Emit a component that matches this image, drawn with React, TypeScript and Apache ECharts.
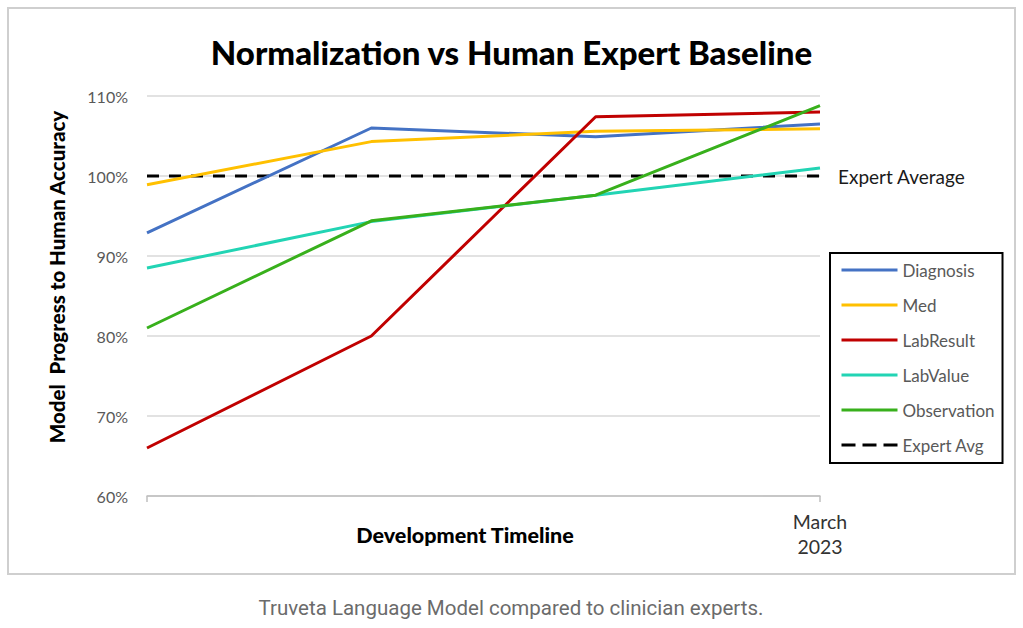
import React, { useEffect, useRef } from "react";
import * as echarts from "echarts";

const categories = ["Stage 1", "Stage 2", "Stage 3", "March\n2023"];
const yTicks = [60, 70, 80, 90, 100, 110];

const diagnosis = [92.9, 106.0, 104.9, 106.5];
const med = [98.9, 104.3, 105.6, 105.9];
const labResult = [66.0, 80.0, 107.4, 108.0];
const labValue = [88.5, 94.3, 97.6, 101.0];
const observation = [81.0, 94.4, 97.6, 108.8];
const expertAvg = [100, 100, 100, 100];

const seriesNames = ["Diagnosis", "Med", "LabResult", "LabValue", "Observation", "Expert Avg"];
const seriesColors = ["#4472C4", "#FFC000", "#C00000", "#22D4B4", "#38B01C", "#000000"];
const seriesValues = [diagnosis, med, labResult, labValue, observation, expertAvg];

const TITLE = "Normalization vs Human Expert Baseline";
const X_NAME = "Development Timeline";
const Y_NAME = "Model  Progress to Human Accuracy";
const CAPTION = "Truveta Language Model compared to clinician experts.";
const EXPERT_LABEL = "Expert Average";

export default function App() {
  const ref = useRef<HTMLDivElement>(null);
  useEffect(() => {
    if (!ref.current) return;
    const chart = echarts.init(ref.current, null, { renderer: "svg" });
    const font = "Lato, 'Open Sans', sans-serif";
    const series = seriesNames.map((name, i) => {
      const isAvg = name === "Expert Avg";
      const s: any = {
        name,
        type: "line",
        data: seriesValues[i],
        symbol: "none",
        showSymbol: false,
        z: isAvg ? 1 : 2 + i,
        lineStyle: {
          color: seriesColors[i],
          width: 3,
          type: isAvg ? [12, 10] : "solid",
        },
        itemStyle: { color: seriesColors[i] },
      };
      if (isAvg) {
        s.endLabel = {
          show: true,
          formatter: EXPERT_LABEL,
          distance: 18,
          color: "#1a1a1a",
          fontSize: 19,
          fontFamily: font,
        };
      }
      return s;
    });
    const legendData = seriesNames.map((name, i) => ({
      name,
      lineStyle: {
        color: seriesColors[i],
        width: 3,
        type: name === "Expert Avg" ? [14, 7] : "solid",
      },
    }));
    chart.setOption({
      animation: false,
      backgroundColor: "#ffffff",
      title: {
        text: TITLE,
        left: "center",
        top: 30,
        textStyle: { fontSize: 33, fontWeight: 900, color: "#000", fontFamily: font },
      },
      grid: { left: 147, right: 203, top: 96, bottom: 132, containLabel: false },
      legend: {
        orient: "vertical",
        left: 830,
        top: 253,
        data: legendData,
        itemWidth: 56,
        itemHeight: 14,
        itemGap: 18,
        padding: [8.5, 8, 9.5, 10],
        borderColor: "#000",
        borderWidth: 2,
        itemStyle: { opacity: 0, borderWidth: 0 },
        textStyle: { color: "#595959", fontSize: 17, fontFamily: font },
      },
      xAxis: {
        type: "category",
        data: categories,
        boundaryGap: false,
        axisLine: { lineStyle: { color: "#bfbfbf", width: 1.5 } },
        axisTick: {
          show: true,
          length: 6,
          interval: (index: number) => index === 0 || index === categories.length - 1,
          lineStyle: { color: "#bfbfbf", width: 1.5 },
        },
        axisLabel: {
          interval: 0,
          margin: 13,
          color: "#333",
          fontSize: 19.5,
          lineHeight: 25,
          fontFamily: font,
          formatter: (v: string, i: number) => (i === categories.length - 1 ? v : ""),
        },
        splitLine: { show: false },
      },
      yAxis: {
        type: "value",
        min: yTicks[0],
        max: yTicks[yTicks.length - 1],
        interval: 10,
        axisLine: { show: false },
        axisTick: { show: false },
        axisLabel: {
          formatter: "{value}%",
          color: "#595959",
          fontSize: 16,
          margin: 19,
          fontFamily: font,
        },
        splitLine: { lineStyle: { color: "#d9d9d9", width: 1.5 } },
      },
      graphic: [
        {
          type: "rect",
          z: -1,
          shape: { x: 8, y: 8, width: 1007, height: 566 },
          style: { fill: "none", stroke: "#cfcfcf", lineWidth: 2 },
        },
        {
          type: "text",
          x: 57,
          y: 277,
          rotation: Math.PI / 2,
          style: {
            text: Y_NAME,
            fontSize: 20.5,
            fontWeight: 900,
            fontFamily: font,
            fill: "#000",
            align: "center",
            verticalAlign: "middle",
          },
        },
        {
          type: "text",
          x: 465,
          y: 535,
          style: {
            text: X_NAME,
            fontSize: 21.5,
            fontWeight: 900,
            fontFamily: font,
            fill: "#000",
            align: "center",
            verticalAlign: "middle",
          },
        },
        {
          type: "text",
          x: 511,
          y: 608,
          style: {
            text: CAPTION,
            fontSize: 20.5,
            fontFamily: "Roboto, Inter, sans-serif",
            fill: "#6b6b6b",
            align: "center",
            verticalAlign: "middle",
          },
        },
      ],
      series,
    });
    return () => chart.dispose();
  }, []);
  return (
    <div
      ref={ref}
      style={{ position: "absolute", left: 0, top: 0, width: 1023, height: 628, background: "#fff" }}
    />
  );
}
